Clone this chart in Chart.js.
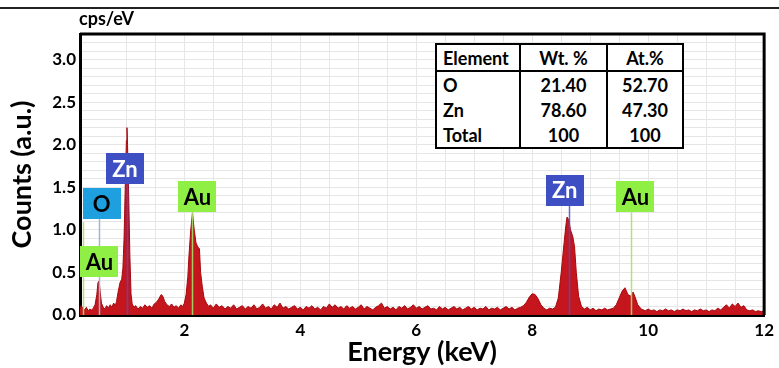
<!DOCTYPE html>
<html>
<head>
<meta charset="utf-8">
<title>EDS spectrum</title>
<script src="https://cdn.jsdelivr.net/npm/chart.js@4/dist/chart.umd.min.js"></script>
<style>
  body { margin: 0; background: #fff; }
  #wrap { position: relative; width: 779px; height: 368px; overflow: hidden; font-family: Lato, "Open Sans", sans-serif; }
  #topRule { position: absolute; left: 0; top: 7px; width: 779px; height: 2px; background: #222; }
  #composition { position: absolute; left: 435px; top: 43px; border-collapse: collapse; border: 2.5px solid #000;
                 background: #fff; font-weight: bold; font-size: 18px; color: #000; }
  #composition th, #composition td { height: 25px; padding: 0 6px; line-height: 1; font-weight: bold; }
  #composition th { border-bottom: 2px solid #000; }
  #composition .c0 { width: 70px; text-align: left; }
  #composition .c1 { width: 73px; text-align: center; border-left: 2px solid #000; }
  #composition .c2 { width: 62px; text-align: center; border-left: 2px solid #000; }
</style>
</head>
<body>
<div id="wrap">
  <canvas id="eds" width="779" height="368"></canvas>
  <div id="topRule"></div>
  <table id="composition"></table>
</div>
<script>
// spectrum: [energy keV, cps/eV]
const spectrum = [
  [0.20,0.07],[0.22,0.11],[0.25,0.08],[0.28,0.06],[0.31,0.09],[0.34,0.05],[0.37,0.07],[0.40,0.06],[0.43,0.08],
  [0.46,0.12],[0.49,0.24],[0.51,0.38],[0.53,0.40],[0.55,0.26],[0.57,0.14],[0.60,0.09],
  [0.63,0.07],[0.66,0.11],[0.69,0.08],[0.72,0.12],[0.75,0.09],[0.78,0.14],[0.81,0.11],[0.83,0.16],
  [0.86,0.28],[0.89,0.38],[0.92,0.42],[0.94,0.55],[0.96,0.90],[0.98,1.50],[1.00,2.05],[1.01,2.20],[1.02,2.00],
  [1.04,1.40],[1.06,0.70],[1.08,0.25],[1.10,0.13],
  [1.13,0.09],[1.16,0.11],[1.20,0.07],[1.24,0.10],[1.28,0.08],[1.32,0.12],[1.36,0.09],[1.40,0.11],[1.44,0.08],
  [1.48,0.13],[1.52,0.15],[1.56,0.19],[1.60,0.24],[1.63,0.22],[1.66,0.16],[1.70,0.12],[1.74,0.10],[1.78,0.13],
  [1.82,0.09],[1.86,0.11],[1.90,0.08],[1.94,0.12],[1.97,0.10],
  [2.00,0.14],[2.03,0.24],[2.06,0.45],[2.08,0.70],[2.11,1.00],[2.14,1.20],[2.17,1.00],[2.20,0.85],[2.23,0.80],
  [2.26,0.78],[2.28,0.50],[2.31,0.33],[2.34,0.20],[2.38,0.14],[2.42,0.10],
  [2.45,0.12],[2.50,0.08],[2.55,0.13],[2.60,0.09],[2.65,0.11],[2.70,0.07],[2.75,0.10],[2.80,0.08],[2.85,0.12],
  [2.90,0.07],[2.95,0.09],[3.00,0.11],[3.05,0.07],[3.10,0.10],[3.15,0.08],[3.20,0.12],[3.25,0.07],[3.30,0.09],
  [3.35,0.13],[3.40,0.08],[3.45,0.10],[3.50,0.07],[3.55,0.12],[3.60,0.09],[3.65,0.14],[3.70,0.08],[3.75,0.10],
  [3.80,0.07],[3.85,0.09],[3.90,0.11],[3.95,0.07],[4.00,0.09],[4.05,0.06],[4.10,0.10],[4.15,0.08],[4.20,0.11],
  [4.25,0.07],[4.30,0.09],[4.35,0.06],[4.40,0.10],[4.45,0.08],[4.50,0.13],[4.55,0.09],[4.60,0.12],[4.65,0.08],
  [4.70,0.10],[4.75,0.07],[4.80,0.11],[4.85,0.08],[4.90,0.10],[4.95,0.07],[5.00,0.09],[5.05,0.12],[5.10,0.07],
  [5.15,0.10],[5.20,0.08],[5.25,0.06],[5.30,0.09],[5.35,0.11],[5.40,0.14],[5.45,0.08],[5.50,0.10],[5.55,0.07],
  [5.60,0.09],[5.65,0.06],[5.70,0.10],[5.75,0.08],[5.80,0.11],[5.85,0.07],[5.90,0.09],[5.95,0.12],[6.00,0.08],
  [6.05,0.10],[6.10,0.07],[6.15,0.09],[6.20,0.11],[6.25,0.07],[6.30,0.08],[6.35,0.06],[6.40,0.10],[6.45,0.07],
  [6.50,0.09],[6.55,0.06],[6.60,0.08],[6.65,0.10],[6.70,0.07],[6.75,0.09],[6.80,0.06],[6.85,0.08],[6.90,0.10],
  [6.95,0.07],[7.00,0.09],[7.05,0.06],[7.10,0.08],[7.15,0.07],[7.20,0.10],[7.25,0.06],[7.30,0.08],[7.35,0.07],
  [7.40,0.09],[7.45,0.06],[7.50,0.08],[7.55,0.10],[7.60,0.07],[7.65,0.09],[7.70,0.06],[7.75,0.08],[7.80,0.09],
  [7.85,0.11],[7.90,0.15],[7.95,0.21],[8.00,0.25],[8.05,0.24],[8.10,0.19],[8.15,0.12],[8.20,0.08],[8.25,0.06],
  [8.30,0.08],[8.35,0.07],[8.40,0.09],
  [8.45,0.20],[8.50,0.50],[8.55,0.85],[8.58,1.05],[8.60,1.15],[8.63,1.12],[8.66,1.00],[8.70,0.92],[8.73,0.80],
  [8.76,0.50],[8.80,0.22],[8.85,0.10],[8.90,0.07],
  [8.95,0.09],[9.00,0.06],[9.05,0.08],[9.10,0.05],[9.15,0.07],[9.20,0.06],[9.25,0.08],[9.30,0.06],[9.35,0.07],
  [9.40,0.08],[9.45,0.12],[9.50,0.20],[9.55,0.28],[9.60,0.32],[9.65,0.24],[9.70,0.22],[9.74,0.27],[9.78,0.20],
  [9.82,0.12],[9.88,0.07],
  [9.95,0.05],[10.00,0.07],[10.05,0.05],[10.10,0.06],[10.15,0.04],[10.20,0.06],[10.25,0.05],[10.30,0.07],
  [10.35,0.05],[10.40,0.06],[10.45,0.04],[10.50,0.06],[10.55,0.05],[10.60,0.07],[10.65,0.05],[10.70,0.06],
  [10.75,0.04],[10.80,0.06],[10.85,0.05],[10.90,0.07],[10.95,0.05],[11.00,0.06],[11.05,0.04],[11.10,0.06],
  [11.15,0.05],[11.20,0.08],[11.25,0.06],[11.30,0.09],[11.35,0.12],[11.40,0.08],[11.45,0.13],[11.50,0.10],
  [11.55,0.14],[11.60,0.09],[11.65,0.11],[11.70,0.06],[11.75,0.05],[11.80,0.06],[11.85,0.04],[11.90,0.05],
  [11.95,0.04],[12.00,0.05]
];

// identified lines
const markerElements = ['Au', 'O', 'Zn', 'Au', 'Zn', 'Au'];
const markerEnergies = [0.26, 0.52, 1.01, 2.14, 8.63, 9.71];

// composition table
const tableHeader = ['Element', 'Wt. %', 'At.%'];
const tableElements = ['O', 'Zn', 'Total'];
const weightPct = ['21.40', '78.60', '100'];
const atomicPct = ['52.70', '47.30', '100'];

// label box placement: dx = px offset of box centre from the line, top = box top in cps/eV
const markerLayout = [
  { dx: 16, top: 0.81, lineTop: 1.09 },
  { dx: 3, top: 1.49 },
  { dx: -2, top: 1.90 },
  { dx: 5, top: 1.57 },
  { dx: -4, top: 1.65 },
  { dx: 4, top: 1.57 }
];
const elementColors = {
  O:  { box: '#1ea0e0', text: '#000', line: '#9cb6d6' },
  Zn: { box: '#3d4fc3', text: '#fff', line: 'rgba(70,80,205,0.85)' },
  Au: { box: '#90ef45', text: '#000', line: 'rgba(165,225,110,0.9)' }
};

// fill the table
const tbl = document.getElementById('composition');
let html = '<tr>' + tableHeader.map((h, i) => `<th class="c${i}">${h}</th>`).join('') + '</tr>';
tableElements.forEach((el, i) => {
  html += `<tr><td class="c0">${el}</td><td class="c1">${weightPct[i]}</td><td class="c2">${atomicPct[i]}</td></tr>`;
});
tbl.innerHTML = html;

const decor = {
  id: 'decor',
  afterDatasetsDraw(chart) {
    const { ctx, scales: { x, y } } = chart;
    const boxW = 38, boxH = 31;
    ctx.save();
    markerEnergies.forEach((e, i) => {
      const lay = markerLayout[i];
      const col = elementColors[markerElements[i]];
      const px = Math.round(x.getPixelForValue(e)) + 0.5;
      const boxTop = y.getPixelForValue(lay.top);
      const lineTop = lay.lineTop ? y.getPixelForValue(lay.lineTop) : boxTop + boxH;
      ctx.strokeStyle = col.line;
      ctx.lineWidth = 1.5;
      ctx.beginPath();
      ctx.moveTo(px, lineTop);
      ctx.lineTo(px, y.getPixelForValue(0));
      ctx.stroke();
    });
    markerEnergies.forEach((e, i) => {
      const lay = markerLayout[i];
      const col = elementColors[markerElements[i]];
      const cx = x.getPixelForValue(e) + lay.dx;
      const boxTop = y.getPixelForValue(lay.top);
      ctx.fillStyle = col.box;
      ctx.fillRect(Math.round(cx - boxW / 2), Math.round(boxTop), boxW, boxH);
      ctx.fillStyle = col.text;
      ctx.font = 'bold 22px Lato, "Open Sans", sans-serif';
      ctx.textAlign = 'center';
      ctx.textBaseline = 'middle';
      ctx.fillText(markerElements[i], cx, boxTop + boxH / 2 + 1);
    });
    ctx.restore();
  },
  afterDraw(chart) {
    const { ctx, chartArea: a } = chart;
    ctx.save();
    ctx.strokeStyle = '#000';
    ctx.lineWidth = 3;
    ctx.beginPath();
    ctx.moveTo(a.left, a.top);
    ctx.lineTo(a.right, a.top);
    ctx.lineTo(a.right, a.bottom);
    ctx.stroke();
    ctx.fillStyle = '#000';
    ctx.font = 'bold 18px Lato, "Open Sans", sans-serif';
    ctx.textAlign = 'left';
    ctx.textBaseline = 'alphabetic';
    ctx.fillText('cps/eV', a.left - 1, a.top - 9);
    ctx.restore();
  }
};

Chart.defaults.font.family = 'Lato, "Open Sans", sans-serif';
Chart.defaults.color = '#000';

const halfStep = v => Math.abs(v * 2 - Math.round(v * 2)) < 1e-6;

new Chart(document.getElementById('eds').getContext('2d'), {
  type: 'line',
  data: {
    datasets: [{
      data: spectrum.map(([e, c]) => ({ x: e, y: c })),
      fill: 'origin',
      backgroundColor: '#c4161c',
      borderColor: '#a50a0e',
      borderWidth: 1,
      pointRadius: 0,
      tension: 0
    }]
  },
  options: {
    responsive: false,
    animation: false,
    layout: { padding: { top: 34, right: 11, left: 0, bottom: 0 } },
    plugins: { legend: { display: false }, tooltip: { enabled: false } },
    scales: {
      x: {
        type: 'linear',
        min: 0.2,
        max: 12,
        afterFit: s => { s.height = 53; },
        ticks: {
          stepSize: 0.5,
          autoSkip: false,
          maxRotation: 0,
          padding: 5,
          font: { size: 17, weight: 'bold' },
          callback: v => (v > 0 && Math.abs(v / 2 - Math.round(v / 2)) < 1e-6) ? String(Math.round(v)) : ''
        },
        grid: { color: '#e6e6e6', lineWidth: 1, drawTicks: false },
        border: { color: '#000', width: 3 },
        title: { display: true, text: 'Energy (keV)', font: { size: 27, weight: 'bold' }, padding: { top: 0, bottom: 0 } }
      },
      y: {
        min: 0,
        max: 3.3,
        afterFit: s => { s.width = 80; },
        ticks: {
          stepSize: 0.1,
          autoSkip: false,
          padding: 4,
          font: { size: 17, weight: 'bold' },
          callback: v => halfStep(v) ? v.toFixed(1) : ''
        },
        grid: { color: '#e6e6e6', lineWidth: 1, drawTicks: false },
        border: { color: '#000', width: 3 },
        title: { display: true, text: 'Counts (a.u.)', font: { size: 27, weight: 'bold' }, padding: { top: 6, bottom: 0 } }
      }
    }
  },
  plugins: [decor]
});
</script>
</body>
</html>
